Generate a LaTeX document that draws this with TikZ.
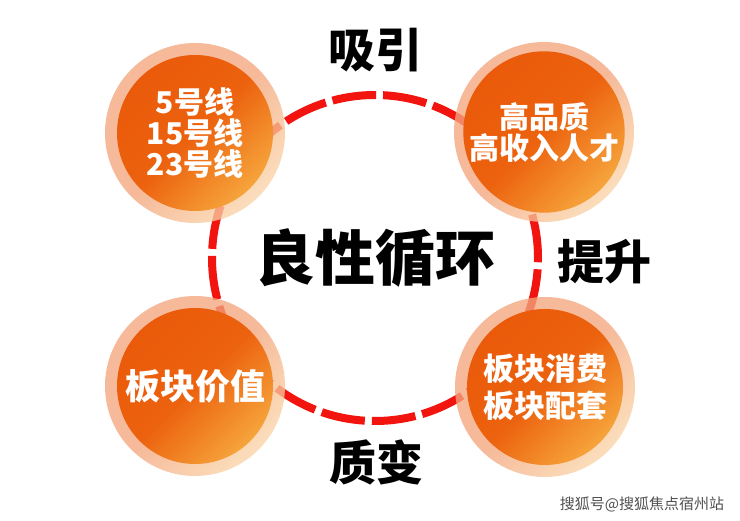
\documentclass[tikz,border=0pt]{standalone}
\usepackage{fontspec}
\setmainfont{Noto Sans CJK SC}
\usetikzlibrary{positioning}
\definecolor{ringred}{HTML}{F2150F}
\definecolor{deeporange}{HTML}{EA5A0A}
\definecolor{midorange}{HTML}{EC620E}
\definecolor{lightorange}{HTML}{F6A43C}
\definecolor{paleorange}{HTML}{F3A57C}
\definecolor{cream}{HTML}{FAD4A8}
\definecolor{markgrey}{HTML}{505050}

\begin{document}
\begin{tikzpicture}[x=1pt,y=-1pt,every node/.style={align=center},
  halo/.style={circle,minimum size=180pt,inner sep=0pt,top color=paleorange,bottom color=cream,middle color=paleorange,shading angle=45,opacity=0.78},
  core/.style={circle,minimum size=156pt,inner sep=0pt,top color=deeporange,bottom color=lightorange,middle color=midorange,shading angle=45,text=white,font=\fontsize{30}{31}\selectfont\bfseries},
  tag/.style={font=\fontsize{47}{47}\selectfont\bfseries}]
\useasboundingbox (0,0) rectangle (740,521);
\node[circle,draw=ringred,line width=8pt,dash pattern=on 44pt off 7pt,minimum size=326pt,inner sep=0pt,font=\fontsize{60}{60}\selectfont\bfseries] (ring) at (375,258) {良性循环};
\node[halo] (lineshalo) at (195,133) {};
\node[core] (lines) at (195,133) {5号线\\15号线\\23号线};
\node[halo] (talenthalo) at (544,132) {};
\node[core] (talent) at (544,132) {高品质\\高收入人才};
\node[halo] (valuehalo) at (195,386) {};
\node[core,font=\fontsize{35}{35}\selectfont\bfseries] (value) at (195,386) {板块价值};
\node[halo] (servicehalo) at (545,387) {};
\node[core,font=\fontsize{31}{37}\selectfont\bfseries] (service) at (545,387) {板块消费\\板块配套};
\node[tag] (attract) at (375,50) {吸引};
\node[tag] (lift) at (604,262) {提升};
\node[tag] (change) at (376,462) {质变};
\node[font=\fontsize{15}{15}\selectfont,text=markgrey] (mark) at (642,504) {搜狐号@搜狐焦点宿州站};
\end{tikzpicture}
\end{document}
